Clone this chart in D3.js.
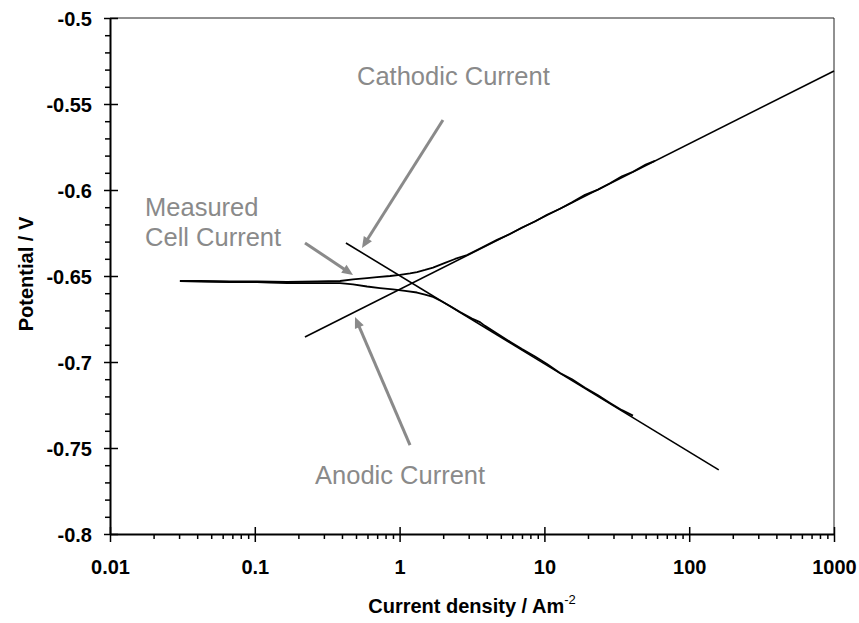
<!DOCTYPE html>
<html>
<head>
<meta charset="utf-8">
<script src="https://cdn.jsdelivr.net/npm/d3@7"></script>
<style>
  body { margin: 0; background: #fff; }
  svg { display: block; }
</style>
</head>
<body>
<svg id="chart" width="859" height="623"></svg>
<script>
// ---- Axis ticks ----
const xTicks = [0.01, 0.1, 1, 10, 100, 1000];
const xTickLabels = ["0.01", "0.1", "1", "10", "100", "1000"];
const yTicks = [-0.5, -0.55, -0.6, -0.65, -0.7, -0.75, -0.8];
const yTickLabels = ["-0.5", "-0.55", "-0.6", "-0.65", "-0.7", "-0.75", "-0.8"];

// ---- Measured cell current: cathodic branch (current density A/m², potential V) ----
const measCathI = [0.0304, 0.0418, 0.0674, 0.1035, 0.127, 0.167, 0.205, 0.269, 0.388, 0.477,
                   0.596, 0.732, 0.900, 1.090, 1.319, 1.498, 1.702, 1.932, 2.229, 2.613,
                   3.162, 3.591, 3.888, 4.708, 5.787, 7.003, 8.612, 10.42, 12.82, 15.51,
                   19.08, 23.45, 28.38, 34.34, 40.9];
const measCathE = [-0.6529, -0.6532, -0.6535, -0.6535, -0.6538, -0.6541, -0.6541, -0.6542, -0.6541, -0.6549,
                   -0.6561, -0.6570, -0.6578, -0.6587, -0.6596, -0.6608, -0.6622, -0.6645, -0.6674, -0.6709,
                   -0.6748, -0.6768, -0.6790, -0.6834, -0.6882, -0.6925, -0.6968, -0.7012, -0.7064, -0.7100,
                   -0.7150, -0.7194, -0.7238, -0.7280, -0.7312];

// ---- Measured cell current: anodic branch ----
const measAnodI = [0.0304, 0.0418, 0.0674, 0.1035, 0.167, 0.269, 0.388, 0.477, 0.596, 0.698,
                   0.859, 1.006, 1.180, 1.319, 1.498, 1.702, 2.059, 2.414, 2.922, 3.591,
                   4.708, 5.787, 7.003, 8.612, 10.42, 12.82, 15.51, 19.08, 23.45, 28.38,
                   34.34, 40.9, 50.1, 58.0];
const measAnodE = [-0.6529, -0.6529, -0.6532, -0.6532, -0.6535, -0.6532, -0.6529, -0.6520, -0.6512, -0.6506,
                   -0.6500, -0.6494, -0.6485, -0.6477, -0.6465, -0.6451, -0.6424, -0.6401, -0.6378, -0.6340,
                   -0.6290, -0.6256, -0.6218, -0.6183, -0.6144, -0.6109, -0.6072, -0.6028, -0.5998, -0.5961,
                   -0.5920, -0.5894, -0.5852, -0.5831];

// ---- Tafel extrapolation lines ----
const anodicTafelI = [0.222, 1000];
const anodicTafelE = [-0.6855, -0.5308];
const cathodicTafelI = [0.426, 160];
const cathodicTafelE = [-0.6308, -0.7627];

// ---- Annotation labels and arrows (data coordinates) ----
const noteLines = ["Cathodic Current", "Measured", "Cell Current", "Anodic Current"];
const noteI = [0.508, 0.01746, 0.01746, 0.2606];
const noteE = [-0.5390, -0.6151, -0.6328, -0.7709];
const arrowFromI = [1.993, 0.2222, 1.180];
const arrowFromE = [-0.5593, -0.6308, -0.7483];
const arrowToI = [0.5498, 0.4768, 0.492];
const arrowToE = [-0.6337, -0.6494, -0.6738];

// ---- Layout ----
const plotLeft = 110, plotRight = 834, plotTop = 18, plotBottom = 534;
const font = '"Liberation Sans", Arial, Helvetica, sans-serif';
const grey = "#8a8a8a";

const svg = d3.select("#chart");

const x = d3.scaleLog().domain([0.01, 1000]).range([plotLeft, plotRight]);
const y = d3.scaleLinear().domain([-0.8, -0.5]).range([plotBottom, plotTop]);

// Minor tick positions
const xMinor = [];
for (let e = -2; e < 3; e++) for (let m = 2; m <= 9; m++) xMinor.push(+(m * Math.pow(10, e)).toPrecision(3));
const yMinor = [];
for (let k = 50; k <= 80; k++) if (k % 5 !== 0) yMinor.push(-k / 100);

// Frame (top and right)
svg.append("path")
  .attr("d", `M${plotLeft},${plotTop}H${plotRight}V${plotBottom}`)
  .attr("fill", "none")
  .attr("stroke", "#222")
  .attr("stroke-width", 1);

// X axis: minor ticks
svg.append("g")
  .attr("transform", `translate(0,${plotBottom})`)
  .call(d3.axisBottom(x).tickValues(xMinor).tickSize(5).tickFormat(""))
  .call(g => g.select(".domain").remove())
  .selectAll(".tick line").attr("stroke", "#000").attr("stroke-width", 1.5);

// X axis: major ticks + labels
const xAxisG = svg.append("g")
  .attr("transform", `translate(0,${plotBottom})`)
  .call(d3.axisBottom(x).tickValues(xTicks).tickSize(8).tickSizeOuter(0)
        .tickFormat((d, i) => xTickLabels[i]));
xAxisG.select(".domain").attr("stroke", "#000").attr("stroke-width", 2);
xAxisG.selectAll(".tick line").attr("y1", -7).attr("stroke", "#000").attr("stroke-width", 1.5);
xAxisG.selectAll(".tick text")
  .attr("y", 40).attr("dy", 0)
  .attr("fill", "#000")
  .style("font-family", font).style("font-size", "20px").style("font-weight", "bold");

// Y axis: minor ticks
svg.append("g")
  .attr("transform", `translate(${plotLeft},0)`)
  .call(d3.axisLeft(y).tickValues(yMinor).tickSize(5).tickFormat(""))
  .call(g => g.select(".domain").remove())
  .selectAll(".tick line").attr("stroke", "#000").attr("stroke-width", 1.5);

// Y axis: major ticks + labels
const yAxisG = svg.append("g")
  .attr("transform", `translate(${plotLeft},0)`)
  .call(d3.axisLeft(y).tickValues(yTicks).tickSize(6).tickSizeOuter(0)
        .tickFormat((d, i) => yTickLabels[i]));
yAxisG.select(".domain").attr("stroke", "#000").attr("stroke-width", 2);
yAxisG.selectAll(".tick line").attr("x1", 8).attr("stroke", "#000").attr("stroke-width", 1.5);
yAxisG.selectAll(".tick text")
  .attr("x", -18).attr("dy", "0.35em")
  .attr("fill", "#000")
  .style("font-family", font).style("font-size", "20px").style("font-weight", "bold");

// Axis titles
const xTitle = svg.append("text")
  .attr("x", 472).attr("y", 613)
  .attr("text-anchor", "middle")
  .style("font-family", font).style("font-size", "20px").style("font-weight", "bold")
  .attr("fill", "#000");
xTitle.append("tspan").text("Current density / Am");
xTitle.append("tspan").attr("dy", -9).style("font-size", "13px").style("font-weight", "normal").text("-2");

svg.append("text")
  .attr("transform", "translate(33,274) rotate(-90)")
  .attr("text-anchor", "middle")
  .style("font-family", font).style("font-size", "20px").style("font-weight", "bold")
  .attr("fill", "#000")
  .text("Potential / V");

// Curves
const line = d3.line().x(d => x(d[0])).y(d => y(d[1]));
const zip = (a, b) => a.map((v, i) => [v, b[i]]);

const plot = svg.append("g");
plot.append("path").datum(zip(anodicTafelI, anodicTafelE))
  .attr("d", line).attr("fill", "none").attr("stroke", "#000").attr("stroke-width", 1.6);
plot.append("path").datum(zip(cathodicTafelI, cathodicTafelE))
  .attr("d", line).attr("fill", "none").attr("stroke", "#000").attr("stroke-width", 1.6);
plot.append("path").datum(zip(measCathI, measCathE))
  .attr("d", line).attr("fill", "none").attr("stroke", "#000").attr("stroke-width", 1.8)
  .attr("stroke-linejoin", "round");
plot.append("path").datum(zip(measAnodI, measAnodE))
  .attr("d", line).attr("fill", "none").attr("stroke", "#000").attr("stroke-width", 1.8)
  .attr("stroke-linejoin", "round");

// Annotation text
const notes = svg.append("g")
  .style("font-family", font).style("font-size", "25.5px")
  .attr("fill", grey);
noteLines.forEach((t, i) => {
  notes.append("text").attr("x", x(noteI[i])).attr("y", y(noteE[i])).text(t);
});

// Annotation arrows
const arrows = svg.append("g");
arrowFromI.forEach((_, i) => {
  const x0 = x(arrowFromI[i]), y0 = y(arrowFromE[i]);
  const x1 = x(arrowToI[i]), y1 = y(arrowToE[i]);
  const dx = x1 - x0, dy = y1 - y0, len = Math.hypot(dx, dy);
  const ux = dx / len, uy = dy / len;
  const headLen = 11, headHalf = 4.8;
  const bx = x1 - ux * headLen, by = y1 - uy * headLen;
  arrows.append("line")
    .attr("x1", x0).attr("y1", y0).attr("x2", bx + ux * 1).attr("y2", by + uy * 1)
    .attr("stroke", grey).attr("stroke-width", 3);
  arrows.append("path")
    .attr("d", `M${x1},${y1}L${bx - uy * headHalf},${by + ux * headHalf}L${bx + uy * headHalf},${by - ux * headHalf}Z`)
    .attr("fill", grey);
});
</script>
</body>
</html>
